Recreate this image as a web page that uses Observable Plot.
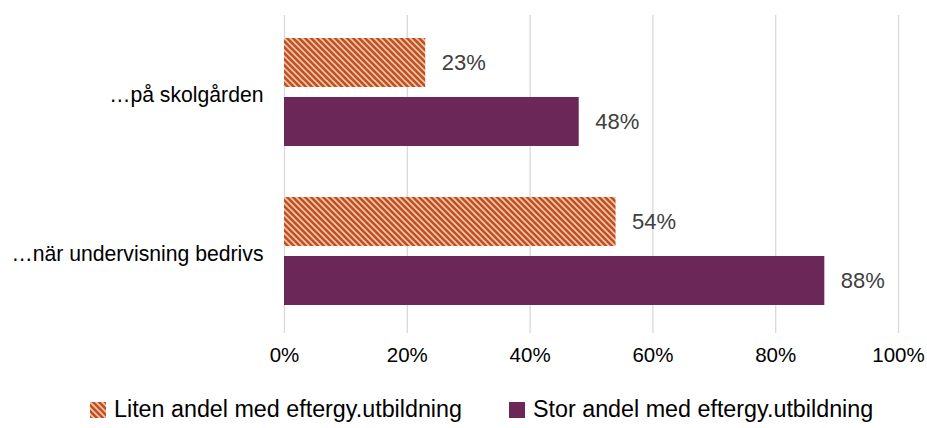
<!DOCTYPE html>
<html><head><meta charset="utf-8">
<script src="https://cdn.jsdelivr.net/npm/d3@7"></script>
<script src="https://cdn.jsdelivr.net/npm/@observablehq/plot@0.6"></script>
<style>
body{margin:0;background:#fff;font-family:"Liberation Sans",Arial,sans-serif;}
#legend{position:relative;height:43px;width:927px;font-size:23.3px;color:#000;}
.item{position:absolute;top:13px;display:flex;align-items:center;line-height:1;}
.sw{width:16px;height:16px;margin-right:8px;}
</style></head><body>
<div id="chart"></div>
<div id="legend">
  <div class="item" style="left:90px"><svg class="sw" width="16" height="16"><rect width="16" height="16" fill="url(#hatch)"/></svg>Liten andel med eftergy.utbildning</div>
  <div class="item" style="left:509px"><div class="sw" style="background:#6B2758"></div>Stor andel med eftergy.utbildning</div>
</div>
<script>
const categories = ["…på skolgården", "…när undervisning bedrivs"];
const seriesNames = ["Liten andel med eftergy.utbildning", "Stor andel med eftergy.utbildning"];
const liten = [0.23, 0.54];
const stor = [0.48, 0.88];
const ticks = [0, 0.2, 0.4, 0.6, 0.8, 1.0];

const data = [];
categories.forEach((c, i) => {
  data.push({cat: c, series: seriesNames[0], value: liten[i]});
  data.push({cat: c, series: seriesNames[1], value: stor[i]});
});

const chart = Plot.plot({
  width: 927,
  height: 385,
  marginLeft: 284,
  marginRight: 29,
  marginTop: 15,
  marginBottom: 52,
  style: {fontFamily: "Liberation Sans, Arial, sans-serif", fontSize: "20px", background: "#fff"},
  x: {domain: [0, 1], ticks: ticks, tickFormat: d => Math.round(d * 100) + "%", label: null, grid: false},
  fy: {domain: categories, padding: 0, label: null},
  y: {domain: seriesNames, paddingInner: 0.167, paddingOuter: 0.41, align: 0.45, axis: null},
  marks: [
    Plot.ruleX(ticks, {stroke: "#d9d9d9", strokeWidth: 1.3}),
    Plot.barX(data, {
      fy: "cat", y: "series", x: "value",
      fill: d => d.series === seriesNames[0] ? "url(#hatch)" : "#6B2758"
    }),
    Plot.text(data, {
      fy: "cat", y: "series", x: "value",
      text: d => Math.round(d.value * 100) + "%",
      dx: 16, textAnchor: "start", fill: "#404040", fontSize: 22
    }),
    Plot.axisX({ticks: ticks, tickFormat: d => Math.round(d * 100) + "%", tickSize: 0, tickPadding: 14, fill: "#000", fontSize: 20.5, label: null}),
    Plot.axisFy({anchor: "left", tickSize: 0, tickPadding: 21, fill: "#000", fontSize: 21.2, label: null})
  ]
});

const defs = d3.select(chart).insert("defs", ":first-child");
const pat = defs.append("pattern").attr("id", "hatch").attr("patternUnits", "userSpaceOnUse")
  .attr("width", 6).attr("height", 6);
pat.append("rect").attr("width", 6).attr("height", 6).attr("fill", "#C1501F");
pat.append("path").attr("d", "M-1,-1 L7,7 M-4,2 L2,8 M4,-2 L10,4")
  .attr("stroke", "#F2C7B0").attr("stroke-width", 1.6);

document.getElementById("chart").appendChild(chart);
</script>
</body></html>
